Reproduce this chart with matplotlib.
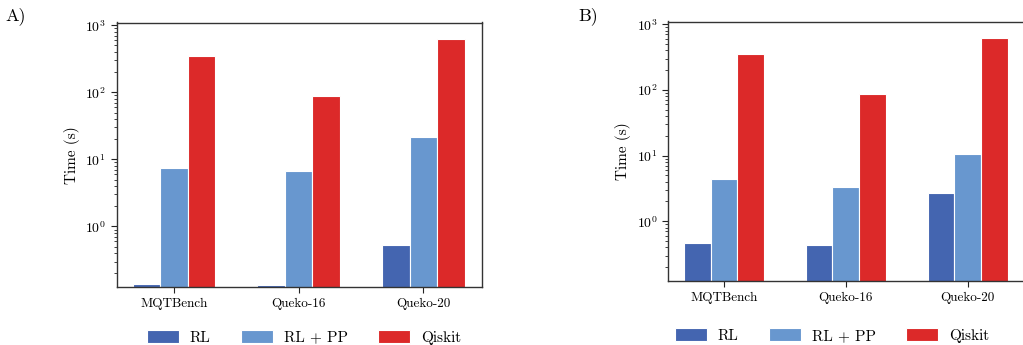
"""Compile time of RL, RL + PP and Qiskit on three benchmark sets (two panels)."""

import matplotlib
matplotlib.use("Agg")
import matplotlib.pyplot as plt
import numpy as np

# Data
benchmarks = ["MQTBench", "Queko-16", "Queko-20"]
methods = ["RL", "RL + PP", "Qiskit"]
colors = ["#4465b0", "#6897cf", "#dc2929"]

# panel A times (s)
a_rl = [0.14, 0.135, 0.53]
a_rl_pp = [7.4, 6.7, 21.5]
a_qiskit = [350, 88, 620]

# panel B times (s)
b_rl = [0.46, 0.43, 2.7]
b_rl_pp = [4.35, 3.3, 10.6]
b_qiskit = [350, 88, 620]

plt.rcParams["font.family"] = ["cmr10", "DejaVu Serif"]
plt.rcParams["mathtext.fontset"] = "cm"
plt.rcParams["axes.formatter.use_mathtext"] = True
plt.rcParams["axes.unicode_minus"] = False


def draw_panel(ax, series, ylim, legend_anchor):
    """Grouped bar chart on a log axis with the legend below."""
    x = np.arange(len(benchmarks))
    width = 0.22
    for i, (vals, name, col) in enumerate(zip(series, methods, colors)):
        ax.bar(x + (i - 1) * width, vals, width, label=name, color=col,
               edgecolor="white", linewidth=0.8)
    ax.set_yscale("log")
    ax.set_ylim(*ylim)
    ax.set_xlim(-0.46, 2.47)
    ax.set_xticks(x)
    ax.set_xticklabels(benchmarks, fontsize=9.5)
    ax.set_ylabel("Time (s)", fontsize=11)
    ax.tick_params(axis="y", labelsize=10)
    ax.tick_params(which="major", length=4, color="#222222")
    ax.tick_params(which="minor", length=2, color="#222222")
    for sp in ax.spines.values():
        sp.set_color("#333333")
        sp.set_linewidth(1.0)
    ax.legend(loc="center", bbox_to_anchor=legend_anchor, ncol=3,
              frameon=False, fontsize=11, handlelength=2.1, handleheight=0.9,
              columnspacing=2.0, handletextpad=0.7)
    return ax


fig = plt.figure(figsize=(10.23, 3.45), dpi=100)
ax_a = fig.add_axes([116.5 / 1023, 1 - 287 / 345, (482 - 116.5) / 1023, (287 - 22.5) / 345])
ax_b = fig.add_axes([668 / 1023, 1 - 281 / 345, (1025 - 668) / 1023, (281 - 21.5) / 345])

draw_panel(ax_a, [a_rl, a_rl_pp, a_qiskit], (0.125, 1100), (0.513, -0.19))
draw_panel(ax_b, [b_rl, b_rl_pp, b_qiskit], (0.123, 1100), (0.459, -0.21))

fig.text(5 / 1023, 1 - 16 / 345, "A)", fontsize=13, va="center", ha="left")
fig.text(578 / 1023, 1 - 16 / 345, "B)", fontsize=13, va="center", ha="left")

fig.savefig("out.png", dpi=100)
plt.close(fig)
